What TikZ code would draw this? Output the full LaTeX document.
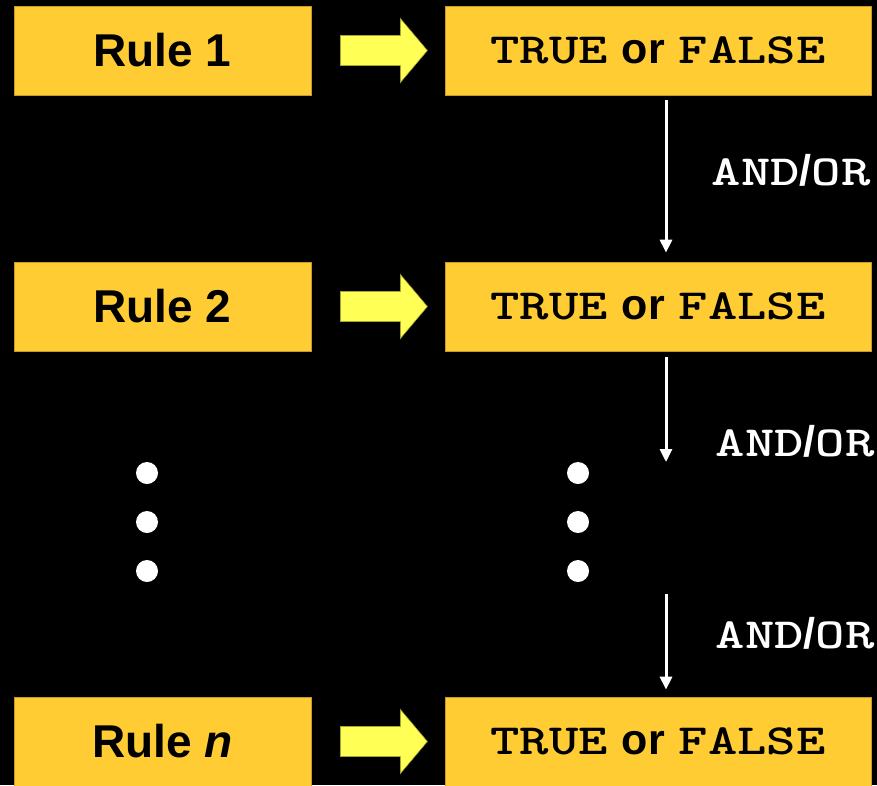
\documentclass[tikz,border=0pt]{standalone}
\usepackage{fontspec}
\newfontfamily\sansfam{Liberation Sans}
\newfontfamily\slabfont{lmmonolt10-bold.otf}
\usetikzlibrary{arrows.meta,calc}

\definecolor{boxgold}{HTML}{FFCC33}
\definecolor{boxedge}{HTML}{C39A2C}
\definecolor{arrowfill}{HTML}{FFFF55}
\definecolor{arrowedge}{HTML}{A3A335}

% bold slab typewriter, widened to Courier proportions
\newcommand\slab[1]{\scalebox{1.3}[1]{\slabfont #1}}
\newcommand\boldsans{\sansfam\bfseries}
\newcommand\tf{\slab{TRUE}\hspace{14pt}{\boldsans or}\hspace{14pt}\slab{FALSE}}
\newcommand\andor{\slab{AND}{\boldsans/}\slab{OR}}

\tikzset{
  rulebox/.style={rectangle, fill=boxgold, draw=boxedge, line width=0.7pt,
    minimum width=297pt, minimum height=89pt, inner sep=0pt,
    font=\boldsans\fontsize{46}{50}\selectfont, text=black},
  valuebox/.style={rectangle, fill=boxgold, draw=boxedge, line width=0.7pt,
    minimum width=426pt, minimum height=89pt, inner sep=0pt,
    font=\fontsize{43}{48}\selectfont, text=black},
  blockarrow/.style={fill=arrowfill, draw=arrowedge, line width=0.6pt, line join=miter},
  flow/.style={draw=white, line width=3pt, -{Triangle[width=12pt,length=13pt]}},
  logic/.style={text=white, font=\fontsize{43}{48}\selectfont, inner sep=0pt},
  dotmark/.style={circle, fill=white, minimum size=22pt, inner sep=0pt},
}

\begin{document}
\begin{tikzpicture}[x=1pt, y=-1pt]
  \fill[black] (0,0) rectangle (877,785);
  \useasboundingbox (0,0) rectangle (877,785);

  % rule boxes and their truth values
  \node[rulebox] (r1) at (162.5,50.5) {Rule 1};
  \node[rulebox] (r2) at (162.5,306.5) {Rule 2};
  \node[rulebox] (rn) at (162.5,741.5) {Rule \textit{n}};

  \node[valuebox] (t1) at (658,50.5) {\tf};
  \node[valuebox] (t2) at (658,306.5) {\tf};
  \node[valuebox] (tn) at (658,741.5) {\tf};

  % block arrows from each rule to its value
  \foreach \i in {1,2,n} {
    \path (r\i.east) ++(29,0) coordinate (s\i);
    \draw[blockarrow] (s\i) ++(0,-15) -- ++(60,0) -- ++(0,-17) -- ++(27,32)
      -- ++(-27,32) -- ++(0,-17) -- ++(-60,0) -- cycle;
  }

  % combining arrows
  \coordinate (a1s) at ($(t1.south)+(8,5)$);
  \coordinate (a1e) at ($(t2.north)+(8,-9)$);
  \coordinate (a2s) at ($(t2.south)+(8,6)$);
  \coordinate (a2e) at (666,462);
  \coordinate (a3s) at (666,594);
  \coordinate (a3e) at ($(tn.north)+(8,-7)$);
  \draw[flow] (a1s) -- (a1e);
  \draw[flow] (a2s) -- (a2e);
  \draw[flow] (a3s) -- (a3e);

  \node[logic] (l1) at (791,170) {\andor};
  \node[logic] (l2) at (795,441) {\andor};
  \node[logic] (l3) at (795,633) {\andor};

  % ellipsis dots
  \node[dotmark] (d1) at (147,473) {};
  \node[dotmark] (d2) at (147,522) {};
  \node[dotmark] (d3) at (147,571) {};
  \node[dotmark] (d4) at (578,473) {};
  \node[dotmark] (d5) at (578,522) {};
  \node[dotmark] (d6) at (578,571) {};
\end{tikzpicture}
\end{document}
